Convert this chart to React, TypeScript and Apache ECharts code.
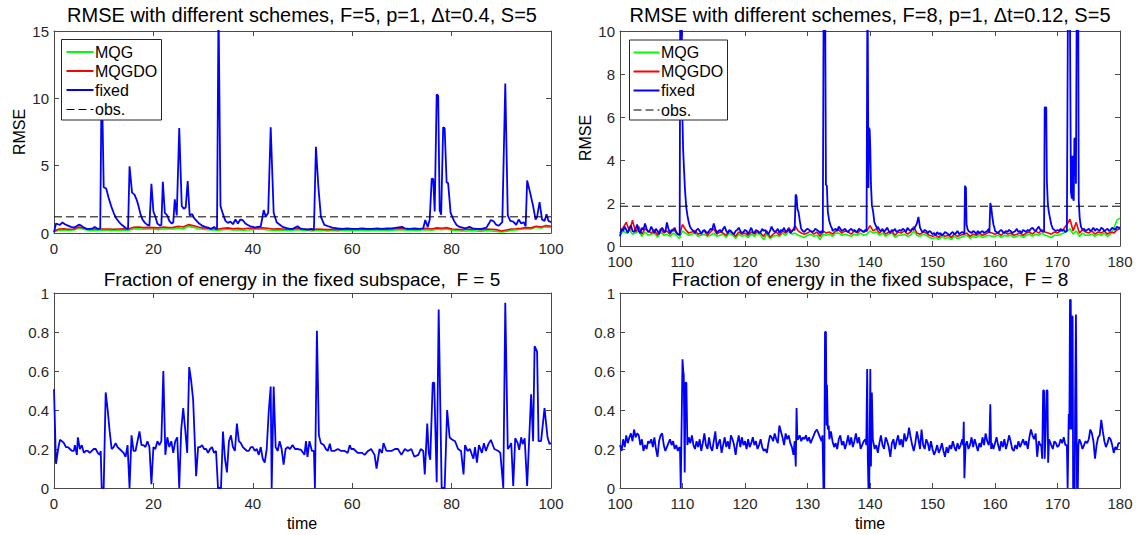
import React, { useEffect, useRef } from "react";
import * as echarts from "echarts";

type Pt = [number, number];

// ---------- F = 5 (left column) ----------
const f5XTicks = [0, 20, 40, 60, 80, 100];
const f5RmseTicks = [0, 5, 10, 15];
const energyTicks = [0, 0.2, 0.4, 0.6, 0.8, 1];
const F5_SCHEME_T0 = 0;
const F5_SCHEME_STEP = 1;
const f5Mqg = [
  0.1, 0.2, 0.22, 0.2, 0.22, 0.35, 0.28, 0.18, 0.2, 0.22,
  0.2, 0.2, 0.18, 0.2, 0.22, 0.2, 0.3, 0.32, 0.28, 0.3,
  0.3, 0.25, 0.32, 0.3, 0.3, 0.38, 0.3, 0.48, 0.42, 0.32,
  0.28, 0.25, 0.22, 0.2, 0.25, 0.28, 0.22, 0.25, 0.2, 0.22,
  0.25, 0.3, 0.28, 0.22, 0.2, 0.22, 0.2, 0.18, 0.2, 0.25,
  0.2, 0.18, 0.15, 0.2, 0.2, 0.15, 0.18, 0.15, 0.18, 0.2,
  0.18, 0.2, 0.2, 0.18, 0.2, 0.22, 0.2, 0.18, 0.2, 0.22,
  0.25, 0.2, 0.2, 0.18, 0.22, 0.25, 0.2, 0.28, 0.25, 0.3,
  0.2, 0.18, 0.15, 0.15, 0.18, 0.15, 0.12, 0.18, 0.15, 0.12,
  0.08, 0.12, 0.2, 0.22, 0.28, 0.32, 0.3, 0.42, 0.38, 0.45,
  0.42,
];
const f5Mqgdo = [
  0.15, 0.3, 0.32, 0.28, 0.3, 0.45, 0.38, 0.28, 0.3, 0.3,
  0.3, 0.3, 0.28, 0.3, 0.32, 0.3, 0.42, 0.45, 0.4, 0.42,
  0.4, 0.38, 0.45, 0.4, 0.42, 0.5, 0.45, 0.62, 0.55, 0.45,
  0.38, 0.35, 0.32, 0.3, 0.35, 0.38, 0.32, 0.35, 0.3, 0.35,
  0.35, 0.4, 0.38, 0.35, 0.3, 0.32, 0.3, 0.28, 0.3, 0.35,
  0.3, 0.28, 0.25, 0.3, 0.28, 0.25, 0.28, 0.25, 0.28, 0.3,
  0.28, 0.3, 0.3, 0.28, 0.3, 0.32, 0.3, 0.28, 0.3, 0.32,
  0.35, 0.3, 0.3, 0.28, 0.32, 0.35, 0.3, 0.38, 0.35, 0.4,
  0.3, 0.28, 0.25, 0.28, 0.3, 0.28, 0.25, 0.3, 0.28, 0.25,
  0.15, 0.22, 0.3, 0.32, 0.35, 0.4, 0.38, 0.5, 0.45, 0.55,
  0.5,
];
const f5Fixed: Pt[] = [
  [0, 0.05], [0.4, 0.7], [0.8, 0.65], [1.2, 0.6], [1.7, 0.78], [2.2, 0.65], [2.8, 0.55], [3.4, 0.45],
  [4.0, 0.4], [4.5, 0.5], [5.0, 0.62], [5.5, 0.55], [6.0, 0.4], [6.6, 0.3], [7.2, 0.3], [7.8, 0.35],
  [8.2, 0.45], [8.6, 0.35], [9.0, 0.3], [9.3, 0.35],
  [9.6, 12], [10.0, 3.4], [10.5, 3.3], [11.0, 2.6], [11.5, 2.0], [12.0, 1.5], [12.5, 1.1], [13.0, 0.85],
  [13.5, 0.65], [14.0, 0.5], [14.5, 0.35], [14.9, 0.3],
  [15.2, 4.95], [15.7, 3.0], [16.2, 2.85], [16.7, 2.4], [17.0, 2.0], [17.4, 1.4], [17.8, 1.0], [18.3, 0.75],
  [18.8, 0.6], [19.2, 0.55],
  [19.6, 3.65], [20.0, 1.6], [20.4, 1.2], [20.8, 0.7], [21.3, 0.55], [21.6, 0.6],
  [21.9, 3.8], [22.3, 1.5], [22.8, 1.3], [23.2, 0.9], [23.7, 0.7], [24.0, 0.8],
  [24.3, 2.5], [24.7, 1.3], [25.2, 7.8], [25.7, 2.0], [26.1, 1.8], [26.5, 1.9], [26.9, 3.85], [27.3, 1.3],
  [27.8, 1.4], [28.2, 1.1], [28.7, 0.9], [29.2, 0.7], [29.8, 0.55], [30.4, 0.45], [31.0, 0.4], [31.6, 0.3],
  [32.2, 0.45], [32.6, 0.3], [32.8, 0.3],
  [33.1, 17], [33.5, 2.0], [34.0, 1.4], [34.5, 0.9], [35.0, 0.75], [35.5, 0.85], [36.0, 0.65], [36.5, 1.0],
  [37.0, 0.7], [37.5, 1.0], [38.0, 0.95], [38.5, 0.7], [39.0, 0.6], [39.5, 0.5], [40.0, 0.45], [40.5, 0.4],
  [41.0, 0.45], [41.6, 0.5],
  [42.2, 1.7], [42.6, 1.2], [43.1, 1.5], [43.6, 7.85], [44.2, 1.5], [44.8, 0.8], [45.5, 0.6], [46.0, 0.45],
  [46.5, 0.4], [47.0, 0.35], [47.5, 0.3], [48.0, 0.3], [48.5, 0.4], [49.0, 0.5], [49.5, 0.35], [50.0, 0.3],
  [51.0, 0.25], [51.8, 0.3], [52.3, 0.25],
  [52.7, 6.4], [53.2, 3.4], [53.7, 1.2], [54.4, 0.6], [55.2, 0.5], [56.0, 0.4], [57.0, 0.35], [58.0, 0.3],
  [59.0, 0.35], [60.0, 0.3], [61.0, 0.3], [62.0, 0.35], [63.0, 0.3], [64.0, 0.3], [65.0, 0.35], [66.0, 0.3],
  [67.0, 0.35], [68.0, 0.35], [69.0, 0.4], [70.0, 0.45], [70.6, 0.35], [71.5, 0.3], [72.5, 0.35], [73.5, 0.3],
  [74.3, 0.35],
  [74.7, 0.97], [75.2, 0.45], [75.6, 1.0], [76.0, 4.05], [76.3, 4.0], [76.6, 1.6], [77.0, 10.3], [77.3, 10.2],
  [77.6, 1.7], [77.9, 1.35], [78.3, 7.85], [78.6, 7.8], [79.0, 3.75], [79.3, 3.7], [79.8, 1.5], [80.5, 0.9],
  [81.0, 0.6], [81.6, 0.45], [82.2, 0.4], [82.8, 0.35], [83.6, 0.45], [84.2, 0.35], [85.0, 0.3], [86.0, 0.3],
  [87.0, 0.4], [87.5, 0.7], [87.9, 0.97], [88.5, 0.85], [89.0, 0.6], [89.5, 0.55], [90.2, 0.8],
  [90.8, 11.1], [91.3, 1.3], [91.8, 0.9], [92.4, 0.85], [93.0, 0.6], [93.5, 1.0], [94.0, 0.7], [94.5, 0.8],
  [94.9, 0.5],
  [95.2, 3.9], [95.8, 3.0], [96.4, 2.0], [96.9, 1.0], [97.2, 1.2], [97.7, 2.3], [98.2, 1.0], [98.7, 0.9],
  [99.1, 1.4], [99.5, 0.9], [100, 0.8],
];
const f5Obs = 1.2;
const f5Energy: Pt[] = [
  [0, 0.506], [0.4, 0.124], [0.9, 0.21], [1.2, 0.247], [1.6, 0.24], [2.0, 0.23], [2.4, 0.21], [2.8, 0.21],
  [3.2, 0.2], [3.6, 0.19], [4.0, 0.19], [4.2, 0.22], [4.6, 0.17], [4.8, 0.26], [5.2, 0.2], [5.6, 0.22],
  [6.0, 0.18], [6.4, 0.19], [6.8, 0.19], [7.2, 0.18], [7.6, 0.19], [8.0, 0.2], [8.4, 0.2], [8.8, 0.18],
  [9.2, 0.17], [9.4, 0.19], [9.6, 0.0], [10.0, 0.0], [10.4, 0.49], [10.8, 0.4], [11.2, 0.29], [11.6, 0.2],
  [12.0, 0.21], [12.4, 0.23], [12.8, 0.21], [13.2, 0.2], [13.6, 0.19], [14.0, 0.18], [14.4, 0.16], [14.8, 0.22],
  [15.2, 0.0], [15.6, 0.27], [16.0, 0.19], [16.4, 0.19], [16.8, 0.24], [17.2, 0.29], [17.6, 0.22], [18.0, 0.22],
  [18.4, 0.21], [18.8, 0.24], [19.2, 0.21], [19.6, 0.02], [20.0, 0.21], [20.4, 0.2], [20.8, 0.24], [21.2, 0.22],
  [21.6, 0.24], [22.0, 0.6], [22.4, 0.17], [22.8, 0.26], [23.2, 0.21], [23.6, 0.24], [24.0, 0.18], [24.4, 0.24],
  [24.8, 0.26], [25.2, 0.0], [25.6, 0.3], [26.0, 0.41], [26.4, 0.3], [26.8, 0.18], [27.2, 0.62], [27.6, 0.55],
  [28.0, 0.45], [28.6, 0.06], [29.0, 0.21], [29.4, 0.21], [29.8, 0.22], [30.2, 0.2], [30.6, 0.2], [31.0, 0.18],
  [31.4, 0.2], [31.8, 0.21], [32.2, 0.18], [32.6, 0.19], [33.0, 0.0], [33.6, 0.0], [34.0, 0.29], [34.4, 0.15],
  [34.8, 0.08], [35.2, 0.24], [35.6, 0.27], [36.0, 0.21], [36.4, 0.19], [36.8, 0.33], [37.2, 0.24], [37.6, 0.23],
  [38.0, 0.21], [38.4, 0.2], [38.8, 0.19], [39.2, 0.19], [39.6, 0.21], [40.0, 0.21], [40.4, 0.19], [40.8, 0.2],
  [41.2, 0.17], [41.6, 0.21], [42.0, 0.15], [42.4, 0.13], [42.8, 0.2], [43.2, 0.39], [43.6, 0.52], [43.8, 0.0],
  [44.2, 0.52], [44.6, 0.21], [45.0, 0.19], [45.4, 0.24], [45.8, 0.2], [46.2, 0.12], [46.6, 0.2], [47.0, 0.21],
  [47.5, 0.2], [48.0, 0.22], [48.5, 0.2], [49.0, 0.2], [49.7, 0.196], [50.4, 0.17], [50.7, 0.24], [51.0, 0.16],
  [51.4, 0.24], [51.9, 0.19], [52.3, 0.19], [52.5, 0.0], [52.9, 0.806], [53.3, 0.27], [53.7, 0.23], [54.3, 0.22],
  [54.7, 0.2], [55.1, 0.19], [55.5, 0.227], [55.8, 0.19], [56.4, 0.19], [57.1, 0.2], [57.8, 0.19], [58.5, 0.19],
  [59.1, 0.18], [59.5, 0.22], [59.8, 0.2], [60.3, 0.2], [61.1, 0.18], [62.0, 0.18], [62.5, 0.17], [63.2, 0.19],
  [63.8, 0.2], [64.5, 0.17], [64.9, 0.1], [65.5, 0.2], [66.0, 0.18], [66.3, 0.23], [66.9, 0.19], [67.4, 0.19],
  [67.9, 0.19], [68.6, 0.2], [69.2, 0.2], [69.9, 0.17], [70.6, 0.2], [71.2, 0.19], [71.9, 0.2], [72.5, 0.16],
  [73.3, 0.17], [73.8, 0.2], [74.3, 0.19], [74.6, 0.07], [75.1, 0.33], [75.4, 0.18], [75.7, 0.145], [76.2, 0.54],
  [76.5, 0.54], [77.0, 0.03], [77.4, 0.915], [78.0, 0.0], [78.6, 0.0], [79.1, 0.4], [79.6, 0.26], [80.0, 0.25],
  [80.7, 0.24], [81.3, 0.2], [81.9, 0.19], [82.4, 0.07], [82.7, 0.22], [83.2, 0.19], [83.7, 0.2], [84.1, 0.17],
  [84.4, 0.15], [84.7, 0.21], [85.1, 0.13], [85.5, 0.22], [86.1, 0.18], [86.5, 0.23], [86.9, 0.19], [87.4, 0.225],
  [87.9, 0.247], [88.6, 0.2], [89.4, 0.19], [89.8, 0.18], [90.4, 0.0], [90.8, 0.95], [91.3, 0.2], [91.6, 0.21],
  [92.0, 0.23], [92.4, 0.01], [92.8, 0.255], [93.3, 0.23], [93.6, 0.196], [94.0, 0.26], [94.3, 0.225], [94.7, 0.255],
  [95.2, 0.01], [96.0, 0.48], [96.4, 0.24], [96.7, 0.727], [97.2, 0.7], [97.5, 0.24], [98.0, 0.24], [98.7, 0.41],
  [99.3, 0.26], [99.7, 0.226], [100, 0.23],
];

// ---------- F = 8 (right column) ----------
const f8XTicks = [100, 110, 120, 130, 140, 150, 160, 170, 180];
const f8RmseTicks = [0, 2, 4, 6, 8, 10];
const F8_T0 = 100;
const F8_SCHEME_STEP = 0.5;
const f8Mqg = [
  0.5, 0.7, 0.6, 0.75, 0.55, 0.6, 0.7, 0.45, 0.65, 0.5,
  0.55, 0.6, 0.4, 0.65, 0.5, 0.55, 0.45, 0.6, 0.5, 0.35,
  0.7, 0.6, 0.5, 0.55, 0.6, 0.45, 0.5, 0.55, 0.45, 0.5,
  0.6, 0.45, 0.5, 0.55, 0.4, 0.6, 0.5, 0.35, 0.55, 0.45,
  0.5, 0.4, 0.55, 0.45, 0.6, 0.5, 0.3, 0.55, 0.35, 0.45,
  0.5, 0.45, 0.6, 0.5, 0.7, 0.55, 0.6, 0.5, 0.45, 0.4,
  0.5, 0.55, 0.45, 0.5, 0.3, 0.55, 0.5, 0.55, 0.45, 0.6,
  0.6, 0.5, 0.55, 0.5, 0.45, 0.55, 0.5, 0.6, 0.5, 0.55,
  0.7, 0.6, 0.65, 0.5, 0.6, 0.45, 0.55, 0.6, 0.4, 0.5,
  0.5, 0.55, 0.45, 0.5, 0.7, 0.5, 0.45, 0.55, 0.5, 0.4,
  0.35, 0.4, 0.3, 0.45, 0.35, 0.4, 0.3, 0.45, 0.35, 0.4,
  0.45, 0.5, 0.35, 0.45, 0.4, 0.5, 0.4, 0.45, 0.5, 0.45,
  0.45, 0.5, 0.4, 0.5, 0.45, 0.5, 0.4, 0.45, 0.5, 0.4,
  0.5, 0.55, 0.45, 0.55, 0.5, 0.6, 0.5, 0.45, 0.4, 0.5,
  0.5, 0.55, 0.6, 0.7, 0.8, 0.55, 0.7, 0.45, 0.6, 0.5,
  0.5, 0.55, 0.45, 0.55, 0.5, 0.6, 0.45, 0.55, 0.8, 1.2,
  1.3,
];
const f8Mqgdo = [
  0.6, 0.85, 1.1, 0.7, 1.2, 0.65, 0.9, 0.55, 0.8, 0.7,
  0.6, 0.75, 0.5, 0.8, 0.6, 0.7, 0.55, 0.8, 0.6, 0.5,
  1.0, 0.75, 0.6, 0.65, 0.7, 0.55, 0.6, 0.7, 0.5, 0.65,
  0.8, 0.55, 0.65, 0.6, 0.5, 0.7, 0.6, 0.45, 0.65, 0.55,
  0.6, 0.5, 0.65, 0.55, 0.7, 0.6, 0.45, 0.7, 0.4, 0.55,
  0.65, 0.5, 0.7, 0.6, 0.85, 0.65, 0.95, 0.7, 0.6, 0.55,
  0.6, 0.7, 0.55, 0.65, 0.45, 0.7, 0.6, 0.65, 0.55, 0.7,
  0.75, 0.6, 0.7, 0.65, 0.55, 0.7, 0.6, 0.75, 0.65, 0.7,
  0.95, 0.7, 0.8, 0.6, 0.75, 0.55, 0.65, 0.7, 0.5, 0.65,
  0.6, 0.7, 0.55, 0.65, 0.9, 0.6, 0.55, 0.65, 0.6, 0.5,
  0.45, 0.5, 0.4, 0.55, 0.45, 0.5, 0.4, 0.55, 0.45, 0.5,
  0.55, 0.6, 0.45, 0.55, 0.5, 0.6, 0.5, 0.55, 0.65, 0.6,
  0.55, 0.6, 0.5, 0.65, 0.55, 0.6, 0.5, 0.55, 0.6, 0.5,
  0.6, 0.65, 0.55, 0.7, 0.6, 0.75, 0.65, 0.6, 0.55, 0.65,
  0.6, 0.7, 0.8, 1.0, 1.25, 0.7, 1.1, 0.6, 0.75, 0.65,
  0.6, 0.7, 0.55, 0.65, 0.6, 0.7, 0.55, 0.65, 0.6, 0.75,
  0.8,
];
const F8_FINE_STEP = 0.25;
const f8FixedBase = [
  0.45, 0.8, 0.7, 0.9, 0.75, 0.6, 0.85, 0.95, 0.7, 0.65, 0.8, 1.0, 0.7, 0.6, 0.85, 0.75, 1.05, 0.8, 0.65, 0.7,
  0.9, 0.75, 0.6, 0.8, 0.7, 0.55, 0.75, 0.85, 0.7, 0.65, 1.1, 0.8, 0.6, 0.75, 0.7, 0.85, 0.65, 0.55, 0.7, 0.6,
  0.8, 0.75, 0.8, 0.7, 0.85, 0.75, 0.8, 0.7, 0.6, 0.75, 0.8, 0.7, 0.55, 0.7, 0.75, 0.65, 0.6, 0.7, 0.8, 0.75,
  1.05, 0.8, 0.6, 0.7, 0.75, 0.65, 0.8, 0.9, 0.7, 0.6, 0.75, 0.7, 0.6, 0.55, 0.7, 0.75, 0.85, 0.7, 0.6, 0.65,
  0.75, 0.7, 0.55, 0.7, 0.85, 0.65, 0.6, 0.75, 0.7, 0.6, 0.65, 0.8, 0.7, 0.75, 0.6, 0.55, 0.7, 0.9, 0.75, 0.65,
  0.7, 0.8, 0.6, 0.75, 0.7, 0.85, 0.65, 0.7, 0.8, 0.6, 0.7, 0.75, 0.65, 0.8, 0.75, 0.7, 0.8, 0.7, 0.65, 0.75,
  0.8, 0.75, 0.7, 0.65, 0.7, 0.8, 0.75, 0.7, 0.6, 0.7, 0.65, 0.75, 0.7, 0.8, 0.75, 0.85, 0.7, 0.75, 0.8, 0.7,
  0.9, 0.8, 0.7, 0.75, 0.8, 0.7, 0.65, 0.75, 0.8, 0.7, 0.75, 0.65, 0.7, 0.8, 0.75, 0.7, 0.65, 0.75, 0.8, 0.75,
  0.9, 0.85, 0.8, 0.85, 0.7, 0.9, 0.75, 0.7, 0.8, 0.65, 0.75, 0.85, 0.7, 0.6, 0.75, 0.7, 0.8, 0.65, 0.7, 0.75,
  0.7, 0.8, 0.75, 0.65, 0.85, 0.75, 0.7, 0.8, 0.75, 0.9, 1.05, 1.35, 0.85, 0.7, 0.65, 0.75, 0.7, 0.6, 0.7, 0.65,
  0.55, 0.6, 0.5, 0.65, 0.55, 0.6, 0.5, 0.55, 0.65, 0.6, 0.55, 0.5, 0.6, 0.65, 0.55, 0.6, 0.7, 0.55, 0.6, 0.65,
  0.6, 0.7, 0.85, 0.7, 0.65, 0.6, 0.7, 0.65, 0.55, 0.7, 0.6, 0.65, 0.7, 0.6, 0.65, 0.7, 0.8, 0.85, 0.9, 0.75,
  0.7, 0.65, 0.6, 0.7, 0.75, 0.65, 0.6, 0.7, 0.65, 0.75, 0.7, 0.6, 0.65, 0.7, 0.8, 0.65, 0.7, 0.6, 0.75, 0.7,
  0.65, 0.75, 0.7, 0.8, 0.85, 0.75, 0.7, 0.8, 0.9, 0.75, 0.7, 0.65, 0.8, 0.85, 0.9, 0.8, 0.85, 0.8, 0.75, 0.7,
  0.75, 0.7, 0.8, 0.7, 0.75, 0.65, 0.7, 0.8, 0.75, 0.8, 0.85, 0.8, 0.75, 0.7, 0.9, 0.8, 0.75, 0.8, 0.7, 0.75,
  0.8, 0.7, 0.75, 0.85, 0.7, 0.8, 0.75, 0.7, 0.85, 0.8, 0.7, 0.75, 0.8, 0.7, 0.75, 0.85, 0.8, 0.75, 0.9, 0.85,
  0.85,
];
const f8FixedBursts: Pt[][] = [
  [[109.4, 0.55], [109.55, 0.5], [109.65, 13], [109.85, 13], [109.95, 6.5], [110.1, 4.5], [110.25, 3.5], [110.4, 2.6], [110.6, 1.8], [110.8, 1.4], [111.0, 1.1], [111.2, 0.9], [111.4, 0.8]],
  [[127.95, 0.75], [128.1, 2.4], [128.25, 2.3], [128.4, 1.7], [128.55, 1.6], [128.75, 1.2], [128.95, 0.85]],
  [[132.45, 0.6], [132.6, 13], [132.8, 13], [132.95, 2.85], [133.1, 2.8], [133.25, 1.6], [133.45, 1.2], [133.7, 0.95], [133.95, 0.8]],
  [[139.45, 0.7], [139.6, 13], [139.75, 2.7], [139.85, 5.5], [139.95, 5.4], [140.05, 4.5], [140.15, 2.9], [140.3, 1.9], [140.5, 1.6], [140.7, 1.1], [141.0, 0.9], [141.2, 0.8]],
  [[155.1, 0.55], [155.2, 2.8], [155.35, 2.7], [155.45, 1.0], [155.6, 0.8]],
  [[159.1, 0.6], [159.25, 2.0], [159.4, 1.8], [159.55, 1.4], [159.75, 1.0], [159.95, 0.8]],
  [[167.85, 0.7], [167.95, 6.45], [168.2, 6.45], [168.3, 3.0], [168.45, 2.0], [168.6, 1.6], [168.8, 1.3], [169.0, 1.0], [169.2, 0.85]],
  [[171.55, 0.7], [171.7, 13], [171.95, 13], [172.05, 7.6], [172.15, 2.5], [172.3, 2.2], [172.4, 4.2], [172.5, 2.2], [172.6, 2.1], [172.7, 5.0], [172.85, 5.0], [172.95, 2.9], [173.1, 13], [173.3, 13], [173.4, 2.1], [173.55, 1.3], [173.75, 0.9]],
];
const f8Obs = 1.85;
const f8EnergyBase = [
  0.22, 0.19, 0.25, 0.21, 0.27, 0.23, 0.26, 0.28, 0.24, 0.3, 0.26, 0.28, 0.27, 0.22, 0.25, 0.19, 0.22, 0.2, 0.24, 0.23,
  0.25, 0.21, 0.26, 0.2, 0.16, 0.24, 0.27, 0.28, 0.22, 0.19, 0.21, 0.23, 0.25, 0.22, 0.24, 0.2, 0.22, 0.19, 0.21, 0.17,
  0.2, 0.22, 0.25, 0.2, 0.26, 0.23, 0.27, 0.22, 0.2, 0.24, 0.21, 0.25, 0.19, 0.23, 0.28, 0.22, 0.2, 0.26, 0.21, 0.19,
  0.24, 0.29, 0.2, 0.23, 0.25, 0.18, 0.22, 0.26, 0.21, 0.24, 0.2, 0.27, 0.25, 0.22, 0.17, 0.23, 0.27, 0.21, 0.26, 0.22,
  0.24, 0.2, 0.25, 0.21, 0.23, 0.26, 0.22, 0.24, 0.2, 0.22, 0.25, 0.21, 0.19, 0.2, 0.18, 0.23, 0.27, 0.26, 0.24, 0.28,
  0.25, 0.23, 0.32, 0.29, 0.26, 0.22, 0.28, 0.25, 0.27, 0.23, 0.21, 0.17, 0.24, 0.22, 0.25, 0.27, 0.24, 0.26, 0.25, 0.27,
  0.24, 0.26, 0.23, 0.25, 0.27, 0.29, 0.3, 0.28, 0.26, 0.24, 0.25, 0.27, 0.3, 0.27, 0.25, 0.29, 0.24, 0.21, 0.23, 0.2,
  0.25, 0.27, 0.22, 0.24, 0.2, 0.23, 0.27, 0.22, 0.26, 0.21, 0.24, 0.28, 0.23, 0.26, 0.2, 0.22, 0.24, 0.25, 0.21, 0.23,
  0.27, 0.29, 0.24, 0.2, 0.22, 0.18, 0.23, 0.27, 0.22, 0.2, 0.26, 0.24, 0.21, 0.16, 0.23, 0.25, 0.2, 0.24, 0.27, 0.22,
  0.25, 0.21, 0.28, 0.24, 0.26, 0.31, 0.26, 0.22, 0.19, 0.23, 0.29, 0.25, 0.2, 0.3, 0.22, 0.2, 0.25, 0.23, 0.19, 0.24,
  0.2, 0.17, 0.19, 0.22, 0.18, 0.2, 0.23, 0.19, 0.16, 0.21, 0.18, 0.22, 0.2, 0.24, 0.21, 0.19, 0.23, 0.2, 0.22, 0.25,
  0.23, 0.22, 0.24, 0.2, 0.22, 0.26, 0.21, 0.25, 0.22, 0.19, 0.23, 0.21, 0.26, 0.22, 0.28, 0.24, 0.22, 0.25, 0.23, 0.2,
  0.23, 0.26, 0.22, 0.19, 0.24, 0.21, 0.25, 0.2, 0.23, 0.27, 0.24, 0.2, 0.19, 0.22, 0.2, 0.24, 0.21, 0.23, 0.25, 0.22,
  0.24, 0.2, 0.26, 0.3, 0.27, 0.25, 0.28, 0.16, 0.24, 0.22, 0.2, 0.23, 0.22, 0.21, 0.23, 0.25, 0.22, 0.2, 0.24, 0.23,
  0.21, 0.22, 0.25, 0.23, 0.26, 0.22, 0.24, 0.27, 0.25, 0.23, 0.22, 0.24, 0.26, 0.21, 0.25, 0.23, 0.2, 0.22, 0.24, 0.23,
  0.25, 0.3, 0.28, 0.24, 0.15, 0.22, 0.26, 0.27, 0.35, 0.29, 0.24, 0.21, 0.23, 0.26, 0.25, 0.22, 0.18, 0.21, 0.2, 0.23,
  0.23,
];
const f8EnergyBursts: Pt[][] = [
  [[109.6, 0.2], [109.72, 0.0], [109.82, 0.0], [110.0, 0.66], [110.12, 0.6], [110.2, 0.58], [110.35, 0.08], [110.48, 0.54], [110.62, 0.54], [110.78, 0.22]],
  [[127.95, 0.24], [128.12, 0.11], [128.25, 0.41], [128.38, 0.25]],
  [[132.4, 0.27], [132.55, 0.0], [132.68, 0.0], [132.8, 0.8], [132.95, 0.8], [133.05, 0.32], [133.12, 0.53], [133.25, 0.3], [133.4, 0.32]],
  [[139.4, 0.22], [139.55, 0.61], [139.65, 0.15], [139.75, 0.0], [139.88, 0.0], [140.05, 0.61], [140.15, 0.11], [140.3, 0.49], [140.45, 0.25]],
  [[154.9, 0.22], [155.0, 0.34], [155.1, 0.05], [155.2, 0.05], [155.3, 0.22]],
  [[159.1, 0.24], [159.25, 0.43], [159.38, 0.2]],
  [[167.4, 0.22], [167.55, 0.15], [167.7, 0.5], [167.85, 0.5], [167.95, 0.15], [168.1, 0.28], [168.25, 0.5], [168.4, 0.5], [168.5, 0.13], [168.65, 0.25]],
  [[171.5, 0.22], [171.62, 0.0], [171.72, 0.0], [171.8, 0.38], [171.9, 0.3], [172.0, 0.965], [172.12, 0.965], [172.2, 0.3], [172.3, 0.88], [172.42, 0.88], [172.5, 0.0], [172.75, 0.0], [172.82, 0.42], [172.95, 0.89], [173.05, 0.89], [173.12, 0.0], [173.25, 0.0], [173.35, 0.22], [173.5, 0.25]],
];

const legendLabels = ["MQG", "MQGDO", "fixed", "obs."];

// ---------- helpers ----------
function uniform(t0: number, step: number, vals: number[]): Pt[] {
  return vals.map((v, i) => [t0 + i * step, v] as Pt);
}
function withBursts(base: Pt[], bursts: Pt[][]): Pt[] {
  const kept = base.filter(([t]) => !bursts.some((b) => t >= b[0][0] && t <= b[b.length - 1][0]));
  const all = kept.concat(...bursts);
  return all.sort((a, b) => a[0] - b[0]);
}

const FONT = '"Liberation Sans", Arial, Helvetica, sans-serif';
const AXIS = "#4a4a4a";
const LABEL = "#262626";
const GREEN = "#00ff00";
const RED = "#ff0000";
const BLUE = "#0000ff";

const grids = [
  { left: 54, top: 31, width: 497, height: 202 },
  { left: 620, top: 31, width: 500, height: 215 },
  { left: 54, top: 293, width: 497, height: 195 },
  { left: 620, top: 293, width: 500, height: 195 },
];

function axisPair(kind: "x" | "y", gridIndex: number, ticks: number[]) {
  const base: any = {
    type: "value",
    gridIndex,
    min: ticks[0],
    max: ticks[ticks.length - 1],
    interval: ticks[1] - ticks[0],
    splitLine: { show: false },
    axisLine: { show: true, onZero: false, lineStyle: { color: AXIS, width: 1 } },
    axisTick: { show: true, inside: true, length: 5, lineStyle: { color: AXIS, width: 1 } },
  };
  const main = {
    ...base,
    position: kind === "x" ? "bottom" : "left",
    axisLabel: {
      show: true,
      fontSize: 15,
      lineHeight: 15,
      color: LABEL,
      fontFamily: FONT,
      margin: kind === "x" ? 8 : 5,
    },
  };
  const twin = { ...base, position: kind === "x" ? "top" : "right", axisLabel: { show: false } };
  return [main, twin];
}

function lineSeries(axisIdx: number, data: Pt[], color: string, width: number, dash?: number[]) {
  return {
    type: "line",
    xAxisIndex: axisIdx * 2,
    yAxisIndex: axisIdx * 2,
    data,
    symbol: "none",
    showSymbol: false,
    silent: true,
    clip: true,
    lineStyle: { color, width, type: dash ? dash : "solid" },
  };
}

function legend(x: number, y: number, w: number, h: number, lx1: number, lx2: number, tx: number) {
  const rows = [y + 12.5, y + 31.5, y + 50.5, y + 70];
  const colors = [GREEN, RED, BLUE, "#000"];
  const els: any[] = [
    { type: "rect", shape: { x, y, width: w, height: h }, style: { fill: "#fff", stroke: "#262626", lineWidth: 1 }, z: 100 },
  ];
  legendLabels.forEach((lab, i) => {
    els.push({
      type: "line",
      shape: { x1: lx1, y1: rows[i], x2: lx2, y2: rows[i] },
      style: { stroke: colors[i], lineWidth: i === 3 ? 1 : 2, lineDash: i === 3 ? [8, 4] : null },
      z: 101,
    });
    els.push({
      type: "text",
      x: tx,
      y: rows[i],
      style: { text: lab, fontSize: 16, fontFamily: FONT, fill: "#000", align: "left", verticalAlign: "middle" },
      z: 101,
    });
  });
  return els;
}

function txt(text: string, x: number, y: number, size: number, rotation = 0) {
  return {
    type: "text",
    x,
    y,
    rotation,
    style: { text, fontSize: size, fontFamily: FONT, fill: "#000", align: "center", verticalAlign: "middle" },
    z: 50,
  };
}

export default function App() {
  const ref = useRef<HTMLDivElement>(null);
  useEffect(() => {
    if (!ref.current) return;
    const chart = echarts.init(ref.current, undefined, { renderer: "svg" });

    const f5MqgPts = uniform(F5_SCHEME_T0, F5_SCHEME_STEP, f5Mqg);
    const f5MqgdoPts = uniform(F5_SCHEME_T0, F5_SCHEME_STEP, f5Mqgdo);
    const f8MqgPts = uniform(F8_T0, F8_SCHEME_STEP, f8Mqg);
    const f8MqgdoPts = uniform(F8_T0, F8_SCHEME_STEP, f8Mqgdo);
    const f8FixedPts = withBursts(uniform(F8_T0, F8_FINE_STEP, f8FixedBase), f8FixedBursts);
    const f8EnergyPts = withBursts(uniform(F8_T0, F8_FINE_STEP, f8EnergyBase), f8EnergyBursts);

    const f5Min = f5XTicks[0], f5Max = f5XTicks[f5XTicks.length - 1];
    const f8Min = f8XTicks[0], f8Max = f8XTicks[f8XTicks.length - 1];

    const option: any = {
      animation: false,
      backgroundColor: "#fff",
      textStyle: { fontFamily: FONT },
      grid: grids.map((g) => ({ ...g, containLabel: false, show: false })),
      xAxis: [
        ...axisPair("x", 0, f5XTicks),
        ...axisPair("x", 1, f8XTicks),
        ...axisPair("x", 2, f5XTicks),
        ...axisPair("x", 3, f8XTicks),
      ],
      yAxis: [
        ...axisPair("y", 0, f5RmseTicks),
        ...axisPair("y", 1, f8RmseTicks),
        ...axisPair("y", 2, energyTicks),
        ...axisPair("y", 3, energyTicks),
      ],
      series: [
        lineSeries(0, f5MqgPts, GREEN, 1.6),
        lineSeries(0, f5MqgdoPts, RED, 1.6),
        lineSeries(0, f5Fixed, BLUE, 1.8),
        lineSeries(0, [[f5Min, f5Obs], [f5Max, f5Obs]], "#000", 1, [8, 4]),
        lineSeries(1, f8MqgPts, GREEN, 1.6),
        lineSeries(1, f8MqgdoPts, RED, 1.6),
        lineSeries(1, f8FixedPts, BLUE, 1.8),
        lineSeries(1, [[f8Min, f8Obs], [f8Max, f8Obs]], "#000", 1, [8, 4]),
        lineSeries(2, f5Energy, BLUE, 1.8),
        lineSeries(3, f8EnergyPts, BLUE, 1.8),
      ],
      graphic: {
        elements: [
          txt("RMSE with different schemes, F=5, p=1, \u0394t=0.4, S=5", 302, 15, 20),
          txt("RMSE with different schemes, F=8, p=1, \u0394t=0.12, S=5", 870, 15, 20),
          txt("Fraction of energy in the fixed subspace,  F = 5", 302, 279, 19),
          txt("Fraction of energy in the fixed subspace,  F = 8", 870, 279, 19),
          txt("RMSE", 19, 132, 16, Math.PI / 2),
          txt("RMSE", 585, 138, 16, Math.PI / 2),
          txt("time", 302, 523, 16),
          txt("time", 870, 523, 16),
          ...legend(61.5, 39.5, 100, 80.5, 66.5, 93.5, 95),
          ...legend(629.5, 40, 98, 80, 633.5, 659.5, 661),
        ],
      },
    };
    chart.setOption(option);
    return () => chart.dispose();
  }, []);
  return (
    <div
      ref={ref}
      style={{ position: "fixed", left: 0, top: 0, width: 1141, height: 535, background: "#fff" }}
    />
  );
}
